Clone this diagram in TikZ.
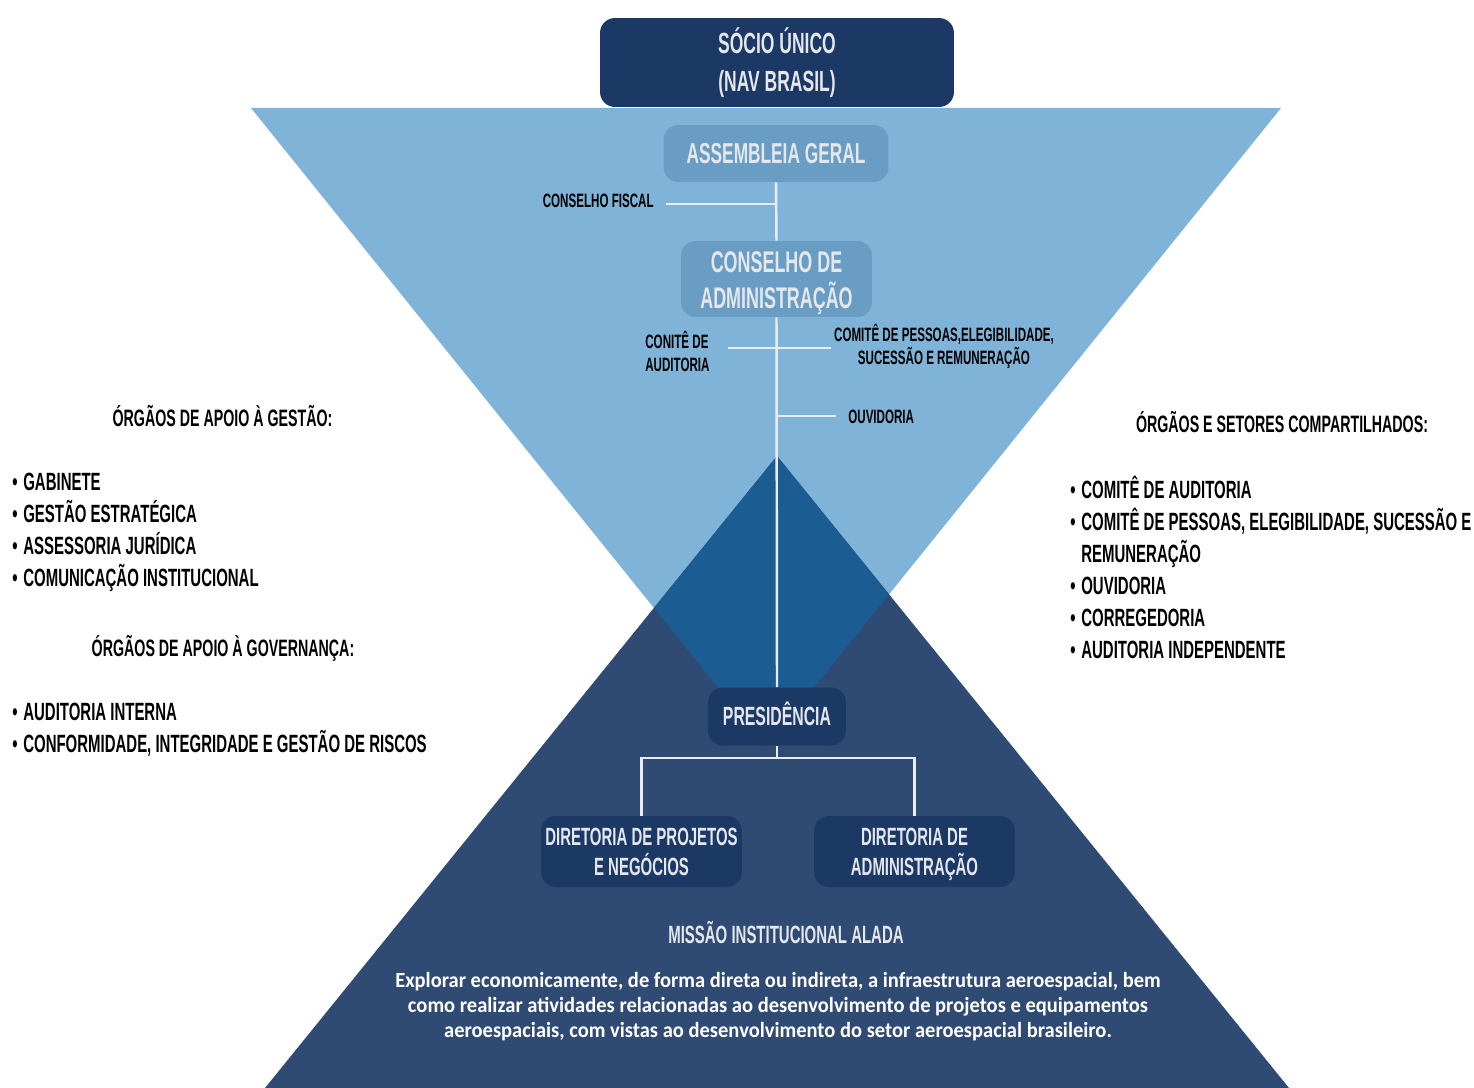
\documentclass[tikz,border=0pt]{standalone}
\usepackage{fontspec}
\setmainfont{Liberation Sans}
\newfontfamily\headfont[FakeStretch=0.60]{Liberation Sans}
\newfontfamily\missionfont[FakeStretch=0.95]{Carlito}
\definecolor{skyblue}{HTML}{7FB3D7}
\definecolor{midblue}{HTML}{1B5C92}
\definecolor{navyblue}{HTML}{2F4B73}
\definecolor{boxnavy}{HTML}{1C3865}
\definecolor{boxsky}{HTML}{6A9DC4}
\definecolor{boxtext}{HTML}{E4E7EC}
\definecolor{linewhite}{HTML}{E9EDF1}
\tikzset{
  orgbox/.style={rounded corners=8.5pt, align=center, inner sep=0pt, text=boxtext},
  darkbox/.style={orgbox, fill=boxnavy},
  lightbox/.style={orgbox, fill=boxsky},
  orgline/.style={draw=linewhite, line width=1.4pt},
  sidelabel/.style={inner sep=0pt, font=\headfont\bfseries\fontsize{11}{13}\selectfont},
  listhead/.style={inner sep=0pt, anchor=base, font=\headfont\bfseries\fontsize{13.5}{16}\selectfont},
  listitem/.style={inner sep=0pt, anchor=base west, font=\headfont\bfseries\fontsize{14.2}{17}\selectfont},
}
\newcommand{\itembullet}{\makebox[0.22cm][l]{•}}
\begin{document}
\begin{tikzpicture}[x=0.02cm, y=-0.02cm]
\useasboundingbox (0,0) rectangle (1474,1088);
% the two triangles and their overlap
\fill[skyblue] (251,108) -- (1281,108) -- (766,747) -- cycle;
\fill[navyblue] (777,456) -- (1289,1088) -- (265,1088) -- cycle;
\begin{scope}
  \clip (251,108) -- (1281,108) -- (766,747) -- cycle;
  \fill[midblue] (777,456) -- (1289,1088) -- (265,1088) -- cycle;
\end{scope}

% boxes
\node[darkbox, minimum width=7.08cm, minimum height=1.78cm,
  font=\headfont\bfseries\fontsize{16.6}{21.5}\selectfont] (socio) at (777,62.5) {SÓCIO ÚNICO\\(NAV BRASIL)};
\node[lightbox, minimum width=4.5cm, minimum height=1.14cm,
  font=\headfont\bfseries\fontsize{16.4}{20.4}\selectfont] (assembleia) at (776,153.5) {ASSEMBLEIA GERAL};
\node[lightbox, minimum width=3.82cm, minimum height=1.52cm,
  font=\headfont\bfseries\fontsize{17}{20.4}\selectfont] (conselho) at (776.5,279) {\rule{0pt}{16.7pt}CONSELHO DE\\ADMINISTRAÇÃO};
\node[darkbox, minimum width=2.76cm, minimum height=1.16cm,
  font=\headfont\bfseries\fontsize{15}{18}\selectfont] (presidencia) at (777,716.5) {\rule[-2.8pt]{0pt}{2.8pt}PRESIDÊNCIA};
\node[darkbox, minimum width=4.02cm, minimum height=1.42cm,
  font=\headfont\bfseries\fontsize{14.2}{17}\selectfont] (dirprojetos) at (641.5,851.5) {DIRETORIA DE PROJETOS\\E NEGÓCIOS};
\node[darkbox, minimum width=4.02cm, minimum height=1.42cm,
  font=\headfont\bfseries\fontsize{14.2}{17}\selectfont] (diradmin) at (914.5,851.5) {\rule{0pt}{13.6pt}DIRETORIA DE\\ADMINISTRAÇÃO};

% connectors
\draw[orgline] (assembleia.south) -- (conselho.north);
\draw[orgline] (conselho.south) -- (presidencia.north);
\coordinate (fiscalend) at (666,204);
\draw[orgline] (fiscalend) -- (fiscalend -| assembleia.south);
\coordinate (auditend) at (728,348);
\coordinate (pessoasend) at (831,348);
\draw[orgline] (auditend) -- (pessoasend);
\coordinate (ouvidend) at (836,416);
\draw[orgline] (ouvidend -| conselho.south) -- (ouvidend);
\coordinate (split) at (777,758);
\draw[orgline] (presidencia.south) -- (split);
\draw[orgline] (dirprojetos.north) |- (split) -| (diradmin.north);

% labels on the branches
\node[sidelabel, anchor=base east] (fiscal) at (654,207) {CONSELHO FISCAL};
\node[sidelabel, anchor=base west, align=left] (auditoria) at (645,371) {CONITÊ DE\\AUDITORIA};
\node[sidelabel, anchor=base, align=center] (pessoas) at (944,364) {COMITÊ DE PESSOAS,ELEGIBILIDADE,\\SUCESSÃO E REMUNERAÇÃO};
\node[sidelabel, anchor=base west] (ouvidoria) at (848,423) {OUVIDORIA};

% mission
\node[anchor=base, inner sep=0pt, text=boxtext,
  font=\headfont\bfseries\fontsize{14.2}{17}\selectfont] (missao) at (786,943) {MISSÃO INSTITUCIONAL ALADA};
\node[anchor=base, inner sep=0pt, align=center, text=white,
  font=\missionfont\bfseries\fontsize{12.3}{14.2}\selectfont] (missaotext) at (778,1037)
  {Explorar economicamente, de forma direta ou indireta, a infraestrutura aeroespacial, bem\\
   como realizar atividades relacionadas ao desenvolvimento de projetos e equipamentos\\
   aeroespaciais, com vistas ao desenvolvimento do setor aeroespacial brasileiro.};

% left lists
\node[listhead] (gestao) at (222.5,426) {ÓRGÃOS DE APOIO À GESTÃO:};
\foreach \txt/\yy in {GABINETE/490, GESTÃO ESTRATÉGICA/522, ASSESSORIA JURÍDICA/554, COMUNICAÇÃO INSTITUCIONAL/586}
  \node[listitem] at (12,\yy) {\itembullet\txt};
\node[listhead] (governanca) at (223,656) {ÓRGÃOS DE APOIO À GOVERNANÇA:};
\foreach \txt/\yy in {AUDITORIA INTERNA/720, {CONFORMIDADE, INTEGRIDADE E GESTÃO DE RISCOS}/752}
  \node[listitem] at (12,\yy) {\itembullet\txt};

% right list
\node[listhead] (compartilhados) at (1282,432) {ÓRGÃOS E SETORES COMPARTILHADOS:};
\foreach \txt/\yy in {COMITÊ DE AUDITORIA/498, {COMITÊ DE PESSOAS, ELEGIBILIDADE, SUCESSÃO E}/530,
  OUVIDORIA/594, CORREGEDORIA/626, AUDITORIA INDEPENDENTE/658}
  \node[listitem] at (1070,\yy) {\itembullet\txt};
\node[listitem] at (1081,562) {REMUNERAÇÃO};
\end{tikzpicture}
\end{document}
